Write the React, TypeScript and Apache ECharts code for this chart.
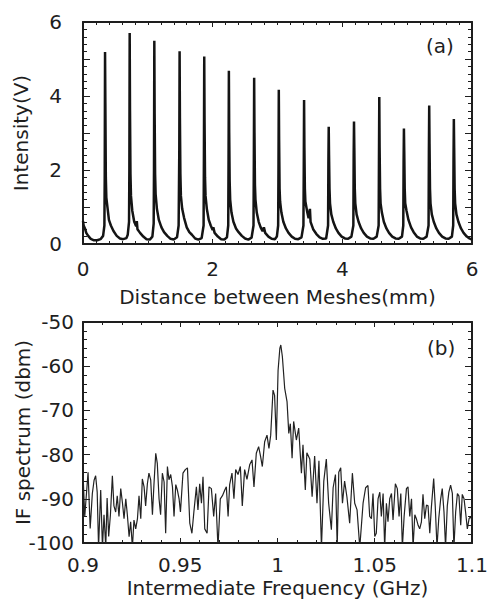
import React, { useEffect, useRef } from "react";
import * as echarts from "echarts";

// ---- Panel (a): interferogram, [distance mm, intensity V] ----
const meshDistance: number[] = [
  0, 0.01, 0.03, 0.05, 0.08, 0.12, 0.17, 0.22, 0.27, 0.31, 0.33,
  0.335, 0.34, 0.345, 0.352, 0.36, 0.38, 0.4, 0.43, 0.47, 0.52, 0.57, 0.62, 0.67, 0.69, 0.71,
  0.715, 0.72, 0.725, 0.732, 0.74, 0.76, 0.79, 0.82, 0.83, 0.84, 0.88, 0.93, 0.98, 1.03, 1.07, 1.09,
  1.095, 1.1, 1.105, 1.112, 1.12, 1.14, 1.17, 1.21, 1.25, 1.3, 1.35, 1.4, 1.45, 1.475,
  1.485, 1.49, 1.495, 1.502, 1.51, 1.53, 1.56, 1.6, 1.64, 1.68, 1.73, 1.78, 1.83, 1.86,
  1.865, 1.87, 1.875, 1.882, 1.89, 1.91, 1.94, 1.97, 2.0, 2.01, 2.03, 2.08, 2.13, 2.18, 2.22, 2.24,
  2.245, 2.25, 2.255, 2.262, 2.27, 2.29, 2.32, 2.36, 2.4, 2.45, 2.5, 2.55, 2.6, 2.63,
  2.635, 2.64, 2.645, 2.652, 2.66, 2.68, 2.71, 2.74, 2.77, 2.79, 2.81, 2.86, 2.91, 2.96, 2.99, 3.01,
  3.015, 3.02, 3.025, 3.032, 3.04, 3.06, 3.09, 3.13, 3.17, 3.22, 3.27, 3.32, 3.37, 3.4,
  3.405, 3.41, 3.415, 3.422, 3.43, 3.46, 3.48, 3.5, 3.51, 3.55, 3.6, 3.65, 3.7, 3.75, 3.78,
  3.785, 3.79, 3.795, 3.802, 3.81, 3.83, 3.86, 3.9, 3.94, 3.99, 4.04, 4.09, 4.14, 4.17,
  4.175, 4.18, 4.185, 4.192, 4.2, 4.22, 4.25, 4.29, 4.33, 4.38, 4.43, 4.48, 4.53, 4.56,
  4.565, 4.57, 4.575, 4.582, 4.59, 4.61, 4.64, 4.68, 4.72, 4.77, 4.82, 4.87, 4.92, 4.94,
  4.945, 4.95, 4.955, 4.962, 4.97, 4.99, 5.02, 5.06, 5.1, 5.15, 5.2, 5.25, 5.3, 5.33,
  5.335, 5.34, 5.345, 5.352, 5.36, 5.38, 5.41, 5.45, 5.49, 5.54, 5.59, 5.64, 5.69, 5.71,
  5.715, 5.72, 5.725, 5.732, 5.74, 5.76, 5.79, 5.83, 5.87, 5.92, 5.96, 6.0,
];
const intensity: number[] = [
  0.62, 0.5, 0.42, 0.3, 0.22, 0.14, 0.1, 0.1, 0.13, 0.22, 0.5,
  1.8, 5.19, 3.8, 1.8, 1.25, 0.95, 0.65, 0.5, 0.35, 0.22, 0.15, 0.13, 0.16, 0.25, 0.6,
  2.0, 5.7, 3.6, 1.9, 1.3, 0.9, 0.6, 0.48, 0.62, 0.4, 0.3, 0.2, 0.13, 0.12, 0.2, 0.55,
  2.0, 5.49, 3.5, 1.9, 1.35, 0.95, 0.65, 0.45, 0.32, 0.22, 0.14, 0.12, 0.18, 0.5,
  2.5, 5.21, 3.4, 1.9, 1.3, 0.95, 0.7, 0.45, 0.32, 0.25, 0.15, 0.12, 0.16, 0.5,
  2.4, 5.07, 3.3, 1.8, 1.3, 0.95, 0.65, 0.5, 0.38, 0.45, 0.3, 0.2, 0.13, 0.12, 0.18, 0.5,
  2.3, 4.68, 3.0, 1.7, 1.2, 0.85, 0.6, 0.42, 0.32, 0.22, 0.15, 0.12, 0.17, 0.5,
  2.2, 4.49, 3.0, 1.6, 1.2, 0.85, 0.6, 0.45, 0.35, 0.45, 0.3, 0.2, 0.14, 0.13, 0.2, 0.5,
  2.0, 4.17, 2.8, 1.5, 1.15, 0.85, 0.6, 0.42, 0.3, 0.2, 0.14, 0.13, 0.18, 0.5,
  2.0, 3.89, 2.6, 1.5, 1.15, 0.85, 0.7, 0.95, 0.6, 0.4, 0.27, 0.18, 0.14, 0.15, 0.5,
  2.2, 3.17, 2.4, 1.5, 1.1, 0.8, 0.6, 0.42, 0.3, 0.2, 0.15, 0.14, 0.2, 0.5,
  2.4, 3.31, 2.6, 1.5, 1.1, 0.8, 0.6, 0.42, 0.3, 0.2, 0.15, 0.14, 0.2, 0.5,
  2.3, 3.97, 2.6, 1.5, 1.1, 0.85, 0.6, 0.42, 0.3, 0.2, 0.15, 0.14, 0.2, 0.5,
  2.2, 3.12, 2.5, 1.5, 1.1, 0.9, 0.65, 0.45, 0.32, 0.2, 0.15, 0.14, 0.2, 0.5,
  2.5, 3.74, 2.7, 1.5, 1.1, 0.8, 0.6, 0.42, 0.3, 0.2, 0.15, 0.14, 0.2, 0.5,
  2.3, 3.38, 2.6, 1.5, 1.1, 0.8, 0.6, 0.42, 0.3, 0.2, 0.15, 0.12,
];

// ---- Panel (b): IF spectrum, [GHz, dBm] ----
const ifFreq: number[] = [
  0.9, 0.9009, 0.9026, 0.9037, 0.9048, 0.9057, 0.9065, 0.9073, 0.908, 0.9091, 0.91, 0.9108, 0.9117, 0.9124,
  0.9132, 0.9141, 0.9151, 0.9159, 0.9168, 0.9176, 0.9185, 0.9194, 0.9203, 0.9211, 0.922, 0.9228, 0.9237,
  0.9245, 0.9254, 0.9262, 0.9271, 0.928, 0.9288, 0.9297, 0.9305, 0.9314, 0.9322, 0.9331, 0.9339, 0.9348,
  0.9357, 0.9365, 0.9374, 0.9382, 0.9391, 0.9399, 0.9408, 0.9417, 0.9425, 0.9434, 0.9442, 0.9451, 0.946,
  0.9468, 0.9477, 0.9485, 0.9494,
  0.9501, 0.9514, 0.9526, 0.9537, 0.9549, 0.956, 0.957, 0.9583, 0.9591, 0.96, 0.9609, 0.9617, 0.9626,
  0.9638, 0.9648, 0.966, 0.9672, 0.9682, 0.9694, 0.9706, 0.9717, 0.9729, 0.9737, 0.9746, 0.9754, 0.9766,
  0.9776, 0.9785, 0.9797, 0.9809, 0.9819, 0.9831, 0.9843, 0.9857, 0.9869, 0.9879, 0.9891, 0.9903, 0.9913,
  0.9922, 0.9934, 0.9946, 0.9956, 0.9965,
  0.9977, 0.9985, 0.9994, 1.0003, 1.0012, 1.0017, 1.0025, 1.0037, 1.0049, 1.0058, 1.0066, 1.0075, 1.0083,
  1.0097, 1.0109, 1.0123, 1.0131, 1.0143, 1.0151, 1.0166, 1.0178, 1.0191, 1.0203, 1.0213, 1.0226, 1.0238,
  1.0251, 1.0263, 1.0277, 1.0286, 1.0298, 1.0307, 1.0315, 1.0325, 1.0334, 1.0345, 1.0357, 1.0371, 1.0385,
  1.0397, 1.0409, 1.0423, 1.044, 1.0453,
  1.0465, 1.0474, 1.0483, 1.0491, 1.05, 1.0508, 1.0517, 1.0526, 1.0534, 1.0543, 1.0551, 1.056, 1.0568,
  1.0577, 1.0586, 1.0594, 1.0606, 1.0616, 1.0625, 1.0634, 1.0642, 1.0651, 1.0663, 1.0671, 1.068, 1.0689,
  1.0697, 1.0706, 1.0714, 1.0723, 1.0731, 1.074, 1.0748, 1.0757, 1.0766, 1.0774, 1.0783, 1.0791, 1.0803,
  1.0811, 1.082, 1.0829, 1.0839, 1.0847, 1.0856, 1.0864, 1.0873, 1.0881, 1.089, 1.0899, 1.0907, 1.0916,
  1.0925, 1.0933, 1.0942, 1.095, 1.0959, 1.0967, 1.0976, 1.0985, 1.0993, 1.1,
];
const ifPower: number[] = [
  -84.2, -94, -84, -96.7, -88.8, -85.8, -84.8, -88.5, -101, -88, -101, -93.6, -101, -89.8,
  -98.5, -93.6, -84.8, -91.6, -93, -89.3, -94, -87.7, -91, -94.5, -90, -93.6, -98.6,
  -95.2, -101, -94.8, -96.8, -94.5, -89.3, -94.5, -85.5, -87.3, -91.6, -86.6, -84.2, -85.7,
  -93.6, -86.6, -79.7, -82, -90, -93.6, -84.2, -86.2, -97.8, -82.7, -85.7, -84.5, -87.3,
  -94, -86.8, -88, -90,
  -93, -84.2, -83.4, -83, -95.5, -97.8, -93, -87.3, -92.5, -86.6, -91, -85, -96.8,
  -97.8, -87.3, -87.7, -94, -88.8, -101, -90, -89.3, -88, -87.3, -94, -86.8, -84.2,
  -90, -83.4, -84.5, -82.7, -91.6, -83.4, -85.6, -82.3, -81.2, -87.3, -79.7, -78.2, -80.4,
  -82.7, -77.1, -75.6, -78.6, -75.6,
  -65.4, -66.6, -76.7, -60.9, -56, -55.2, -57.8, -65, -68, -75.2, -73, -80.8, -72.5,
  -76.7, -74, -84.2, -77.8, -88, -79.6, -81, -89.5, -80.3, -91, -81.4, -101, -86,
  -81, -91, -97, -87.5, -84.5, -101, -84, -83, -91, -86, -89.6, -95.5, -84.2,
  -91, -92.5, -101, -91, -87.5,
  -87, -94, -94.5, -88.8, -98.5, -97.8, -90, -88.5, -94, -88.8, -101, -91, -95.2,
  -90, -88.8, -94.8, -86.6, -87.7, -94, -88.8, -101, -94, -87.7, -87.3, -94, -90,
  -101, -93.6, -94.5, -96, -96.8, -95.2, -89, -94.5, -91.4, -91.6, -97.8, -92, -85.4,
  -91.6, -101, -94.5, -90, -87.7, -93, -101, -91.6, -88.5, -86.9, -88.8, -101, -93,
  -88.8, -89.4, -96, -89, -90, -93, -96.8, -94.5, -94, -95,
];

const topTicks = ["0", "2", "4", "6"];
const bottomYTicks = ["-100", "-90", "-80", "-70", "-60", "-50"];

const FONT = "DejaVu Sans";
const INK = "#1e1e1e";

export default function App() {
  const ref = useRef<HTMLDivElement>(null);

  useEffect(() => {
    document.body.style.margin = "0";
    if (!ref.current) return;
    const chart = echarts.init(ref.current, undefined, { renderer: "svg" });

    const lineStyle = { color: INK, width: 2 };
    const tickStyle = { color: INK, width: 1 };
    const baseLabel = { color: INK, fontFamily: FONT, fontSize: 20 };
    const nameStyle = { color: INK, fontFamily: FONT, fontSize: 20 };

    const mkX = (grid: number, min: number, max: number, interval: number, minorSplit: number,
      pos: "bottom" | "top", showLabel: boolean, fmt?: (v: number) => string, margin = 14,
      name = "", nameGap = 30) => ({
      type: "value", gridIndex: grid, min, max, interval, position: pos,
      name, nameLocation: "middle", nameGap, nameTextStyle: nameStyle, nameMoveOverlap: false,
      axisLine: { show: true, onZero: false, lineStyle },
      axisTick: { show: true, inside: true, length: 5, lineStyle: tickStyle },
      minorTick: { show: true, splitNumber: minorSplit, length: 3, lineStyle: tickStyle },
      splitLine: { show: false },
      minorSplitLine: { show: false },
      axisLabel: { show: showLabel, ...baseLabel, margin, formatter: fmt },
    });
    const mkY = (grid: number, min: number, max: number, interval: number, minorSplit: number,
      pos: "left" | "right", showLabel: boolean, fmt?: (v: number) => string, margin = 10,
      name = "", nameGap = 40) => ({
      type: "value", gridIndex: grid, min, max, interval, position: pos,
      name, nameLocation: "middle", nameGap, nameTextStyle: nameStyle, nameMoveOverlap: false,
      axisLine: { show: true, onZero: false, lineStyle },
      axisTick: { show: true, inside: true, length: 7, lineStyle: tickStyle },
      minorTick: { show: true, splitNumber: minorSplit, length: 4, lineStyle: tickStyle },
      splitLine: { show: false },
      minorSplitLine: { show: false },
      axisLabel: { show: showLabel, ...baseLabel, margin, formatter: fmt },
    });

    const fmtTopX = (v: number) => {
      const s = String(Math.round(v));
      return topTicks.includes(s) ? s : "";
    };
    const fmtTopY = (v: number) => {
      const s = String(Math.round(v));
      return topTicks.includes(s) ? s : "";
    };
    const fmtBX = (v: number) => String(parseFloat(v.toFixed(2)));
    const fmtBY = (v: number) => {
      const s = String(Math.round(v));
      return bottomYTicks.includes(s) ? s : "";
    };

    const topData = meshDistance.map((x, i) => [x, intensity[i]]);
    const bottomData = ifFreq.map((x, i) => [x, ifPower[i]]);

    chart.setOption({
      animation: false,
      backgroundColor: "#ffffff",
      grid: [
        { left: 83, top: 22, width: 389, height: 222, outerBoundsMode: "none", containLabel: false },
        { left: 83, top: 322, width: 389, height: 221, outerBoundsMode: "none", containLabel: false },
      ],
      xAxis: [
        mkX(0, 0, 6, 2, 10, "bottom", true, fmtTopX, 15, "Distance between Meshes(mm)", 43),
        mkX(0, 0, 6, 2, 10, "top", false),
        mkX(1, 0.9, 1.1, 0.05, 5, "bottom", true, fmtBX, 12, "Intermediate Frequency (GHz)", 35),
        mkX(1, 0.9, 1.1, 0.05, 5, "top", false),
      ],
      yAxis: [
        mkY(0, 0, 6, 1, 5, "left", true, fmtTopY, 21, "Intensity(V)", 52),
        mkY(0, 0, 6, 1, 5, "right", false),
        mkY(1, -100, -50, 10, 5, "left", true, fmtBY, 9, "IF spectrum (dbm)", 50),
        mkY(1, -100, -50, 10, 5, "right", false),
      ],
      graphic: [
        { type: "text", x: 426, y: 36, style: { text: "(a)", fill: INK, font: `20px "${FONT}"` } },
        { type: "text", x: 427, y: 338, style: { text: "(b)", fill: INK, font: `20px "${FONT}"` } },
      ],
      series: [
        {
          type: "line", xAxisIndex: 0, yAxisIndex: 0, data: topData,
          showSymbol: false, symbol: "none", clip: true,
          lineStyle: { color: "#141414", width: 2.5 },
        },
        {
          type: "line", xAxisIndex: 2, yAxisIndex: 2, data: bottomData,
          showSymbol: false, symbol: "none", clip: true,
          lineStyle: { color: "#222222", width: 1.2 },
        },
      ],
    });

    return () => chart.dispose();
  }, []);

  return (
    <div
      ref={ref}
      style={{ position: "fixed", left: 0, top: 0, width: 487, height: 605, background: "#fff" }}
    />
  );
}
